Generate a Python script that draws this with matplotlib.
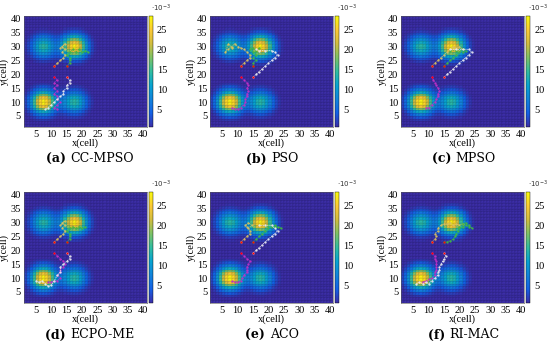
#coverage maps of the six planners
import numpy as np
import matplotlib
matplotlib.use('Agg')
import matplotlib.pyplot as plt
from matplotlib.colors import LinearSegmentedColormap, Normalize

plt.rcParams['font.family'] = ['Liberation Serif', 'DejaVu Serif']

#target density: four gaussian blobs on a 40x40 grid
peak_x = [7.5, 17.5, 7.5, 17.5]
peak_y = [30.0, 30.0, 10.0, 10.0]
peak_amp = [14.0e-3, 28.0e-3, 28.0e-3, 14.0e-3]
peak_sigma = [2.7, 2.7, 2.7, 2.7]
cbar_ticks = [5e-3, 10e-3, 15e-3, 20e-3, 25e-3]
cbar_labels = ['5', '10', '15', '20', '25']
axis_ticks = [5, 10, 15, 20, 25, 30, 35, 40]

titles_tag = ['(a)', '(b)', '(c)', '(d)', '(e)', '(f)']
titles_name = ['CC-MPSO', 'PSO', 'MPSO', 'ECPO-ME', 'ACO', 'RI-MAC']

start_x = [11, 15, 11, 15]
start_y = [23, 23, 19, 19]

#paths (x, y) per panel: yellow, green, magenta, white
a_yel = [(11,23),(12,24),(13,25),(14,26),(14.5,27),(13.5,28),(14.5,29),(13.5,30),(14.5,31),(13,29.5)]
a_grn = [(15,23),(16,24),(16,25),(16,26),(15,27),(16,28),(17,29),(18,28),(19,29),(20,28),(21,28.5),(22,28)]
a_mag = [(11,19),(12,18),(11,17),(12,16),(11,15),(12,14),(11,13),(12,12),(12,11),(13,10),(12,9),(11,8),(12,7.5)]
a_wht = [(15,19),(16,18),(16,17),(15,16),(15,15),(14,14),(14,13),(13,12),(12,11),(11,10),(10,9),(9,8),(8,7.5)]

b_yel = [(11,23),(12,24),(13,25),(14,26),(14,27),(13,28),(12,29),(11,29.5),(10,30),(9,31),(8,30),(7,29),(6,28),(7,31),(8,29.5)]
b_grn = [(15,23),(15,24),(16,25),(15,26),(16,27),(15,28),(14,29),(15,29.5),(16,28.5),(17,29.5)]
b_mag = [(11,19),(12,18),(13,17),(13.5,16),(13,15),(13.5,14),(13,13),(13,12),(12.5,11),(12.5,10),(12,9),(11,8),(10,7.5),(9,7.5),(8,8)]
b_wht = [(15,19),(16,20),(17,21),(18,22),(19,23),(20,24),(21,25),(22,26),(23,27),(22,28),(21,28.5),(19,28.5),(17,28.5),(16,29)]

c_yel = [(11,23),(12,24),(13,25),(14,26),(15,27),(16,28),(17,29),(18,30),(19,29.5),(20,30),(21,29),(20,28.5),(18,29)]
c_grn = [(15,23),(16,24),(17,25),(18,26),(19,27),(20,28),(21,29),(22,28.5),(21,28),(19,28.5),(17,28.5)]
c_mag = [(11,19),(11.5,18),(12,17),(12.5,16),(13,15),(13.5,14),(13,13),(13,12),(12.5,11),(12,10),(11,9),(10,8),(9,8)]
c_wht = [(15,19),(16,20),(17,21),(18,22),(19,23),(20,24),(21,25),(22,26),(23,27),(24,28),(23,29),(21,29),(19,29),(17,29)]

d_yel = [(11,23),(12,24),(13,25),(14,26),(14.5,27),(13.5,28),(14.5,29),(13.5,30),(14.5,30.5),(13,29)]
d_grn = [(15,23),(16,24),(16,25),(16,26),(15,27),(16,28),(17,28.5),(18,28),(19,28.5),(20,28),(21,28.5)]
d_mag = [(11,19),(12,18),(13,17),(14,16),(14.5,15),(14,14),(13,13),(13,12),(12,11),(13,10),(12,9),(11,9),(10,8.5),(9,8.5)]
d_wht = [(15,19),(16,18),(16,17),(15,16),(14,15),(13,14),(13,12),(12,11),(11,9),(10,7.5),(9,7),(8,8),(7,9),(6,8.5),(5,9)]

e_yel = [(11,23),(12,24),(13,25),(14,26),(14,27),(13.5,28),(14.5,29),(13.5,30),(12.5,29),(13,28.5)]
e_grn = [(15,23),(16,24),(17,25),(18,26),(19,27),(20,28),(21,28.5),(22,29),(23,28.5),(24,28),(22,28.5),(20,29)]
e_mag = [(11,19),(12,18),(13,17),(14,16),(13.5,15),(13,14),(13,13),(13,12),(12,11),(11.5,10),(11,9),(10,8.5),(9,8.5),(8,9)]
e_wht = [(15,19),(16,20),(17,21),(18,22),(19,23),(20,24),(21,25),(22,26),(23,27),(22,28),(21,29),(19,29),(17,29)]

f_yel = [(11,23),(12,24),(12.5,25),(12,26),(13,27),(13,28),(14,29),(15,29.5),(16,29.5),(17,30),(18,29),(19,29.5),(20,29),(21,29.5)]
f_grn = [(15,23),(16,23),(17,23.5),(18,24),(18.5,25),(19,26),(19.5,27),(20,28),(21,28.5),(22,29),(23,28.5),(24,28),(23,29),(22,30),(21,29.5),(20,28.5)]
f_mag = [(11,19),(12,18),(12,17),(12.5,16),(12.5,15),(12.5,14),(12.5,13),(12,12),(12,11),(11,10),(10,9.5),(9,9),(8,8.5)]
f_wht = [(15,19),(15.5,18),(15,17),(14.5,16),(14,15),(13.5,14),(13.5,13),(13,12),(13,11),(12,10),(11,9),(10,8),(9,8.5),(8,8),(7,8.5),(6,8)]

panel_paths = [
    [a_yel, a_grn, a_mag, a_wht],
    [b_yel, b_grn, b_mag, b_wht],
    [c_yel, c_grn, c_mag, c_wht],
    [d_yel, d_grn, d_mag, d_wht],
    [e_yel, e_grn, e_mag, e_wht],
    [f_yel, f_grn, f_mag, f_wht],
]
path_colors = ['#d8c060', '#40b840', '#c030c8', '#e8e8f0']

#parula-like colormap
parula = LinearSegmentedColormap.from_list('parula', [
    (0.0, (0.235, 0.180, 0.660)),
    (0.125, (0.080, 0.380, 0.900)),
    (0.25, (0.070, 0.515, 0.860)),
    (0.375, (0.030, 0.640, 0.820)),
    (0.5, (0.190, 0.740, 0.630)),
    (0.625, (0.490, 0.760, 0.400)),
    (0.75, (0.820, 0.740, 0.250)),
    (0.875, (0.990, 0.790, 0.210)),
    (1.0, (0.976, 0.983, 0.054)),
])

edges = np.arange(1, 42)
cx = edges[:-1] + 0.5
X, Y = np.meshgrid(cx, cx)
Z = np.zeros_like(X)
for px, py, amp, sg in zip(peak_x, peak_y, peak_amp, peak_sigma):
    Z += amp * np.exp(-((X - px)**2 + (Y - py)**2) / (2 * sg**2))
norm = Normalize(vmin=0.5e-3, vmax=28.3e-3)

W, H = 550, 352
fig = plt.figure(figsize=(5.5, 3.52), dpi=100)
lefts = [23.5, 210, 401]
tops = [16, 192]
aw, ah = 123, 111
cap_x = [90, 272, 464]
cap_y = [159, 335]

for k in range(6):
    r, c = divmod(k, 3)
    l, t = lefts[c], tops[r]
    ax = fig.add_axes([l / W, 1 - (t + ah) / H, aw / W, ah / H])
    mesh = ax.pcolormesh(edges, edges, Z, cmap=parula, norm=norm,
                         edgecolors=(0, 0, 0, 0.06), linewidth=0.3)
    for pts, col in zip(panel_paths[k], path_colors):
        xs = [p[0] for p in pts]
        ys = [p[1] for p in pts]
        ax.plot(xs, ys, '--', color=col, lw=0.5, dashes=(2, 1.2),
                marker='.', ms=1.2)
    ax.plot(start_x, start_y, 'o', color='red', ms=1.5, mec='none')
    ax.set_xlim(1, 41)
    ax.set_ylim(1, 41)
    ax.set_xticks(axis_ticks)
    ax.set_yticks(axis_ticks)
    ax.tick_params(length=0, labelsize=7.5, pad=2)
    ax.set_xlabel('x(cell)', fontsize=7.5, labelpad=0)
    ax.set_ylabel('y(cell)', fontsize=7.5, labelpad=1)
    for s in ax.spines.values():
        s.set_linewidth(0.4)
        s.set_color('#555555')

    cax = fig.add_axes([(l + aw + 2) / W, 1 - (t + ah) / H, 4 / W, ah / H])
    cb = fig.colorbar(mesh, cax=cax)
    cb.set_ticks(cbar_ticks)
    cb.set_ticklabels(cbar_labels)
    cb.outline.set_linewidth(0.3)
    cax.tick_params(length=0, labelsize=7.5, pad=3)
    cax.text(0.6, 1.02, r'$\cdot10^{-3}$', transform=cax.transAxes,
             fontsize=5, ha='left', va='bottom', color='#333333')

    #caption: bold tag + plain name
    t1 = fig.text(0, 1 - cap_y[r] / H, titles_tag[k] + ' ', fontsize=9,
                  fontweight='bold', va='center', family=['DejaVu Serif'])
    t2 = fig.text(0, 1 - cap_y[r] / H, titles_name[k], fontsize=9,
                  va='center', family=['DejaVu Serif'])
    fig.canvas.draw()
    rend = fig.canvas.get_renderer()
    w1 = t1.get_window_extent(rend).width
    w2 = t2.get_window_extent(rend).width
    x0 = cap_x[c] - (w1 + w2) / 2
    t1.set_x(x0 / W)
    t2.set_x((x0 + w1) / W)

fig.savefig('out.png', dpi=100)
